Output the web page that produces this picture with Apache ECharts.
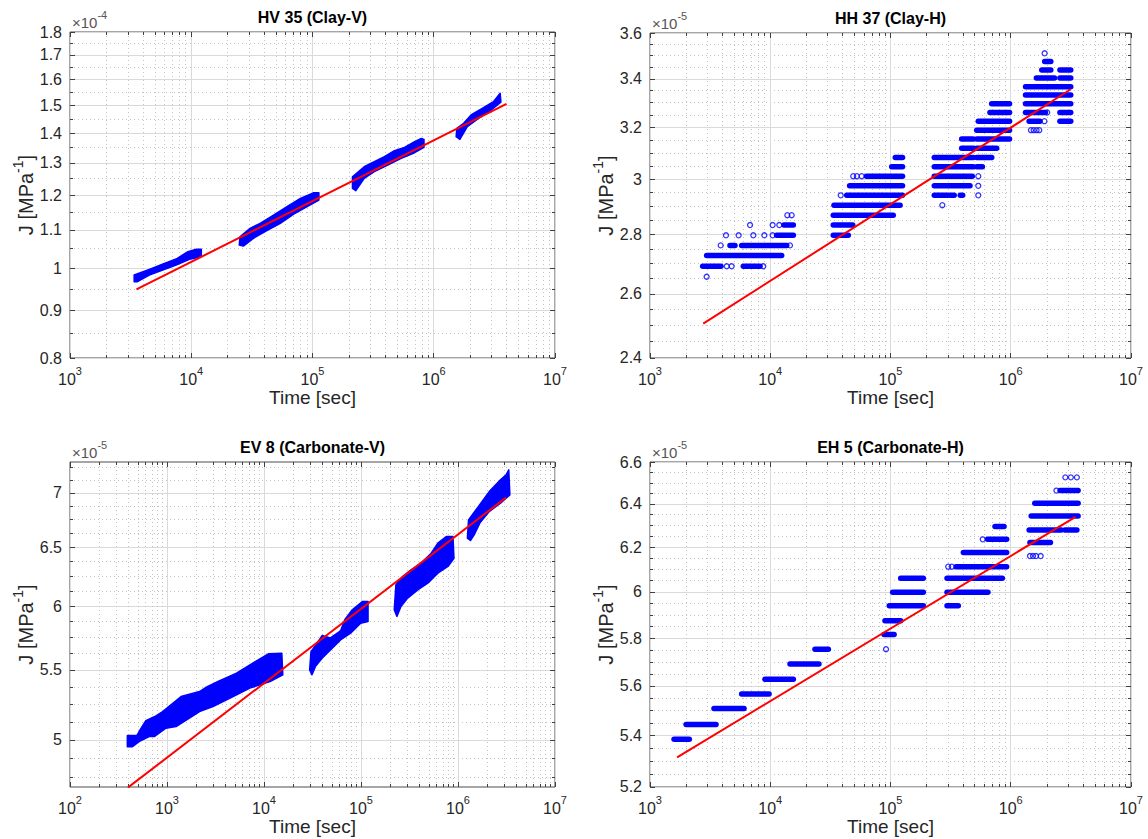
<!DOCTYPE html>
<html>
<head>
<meta charset="utf-8">
<script src="https://cdn.jsdelivr.net/npm/echarts@6.0.0/dist/echarts.min.js"></script>
<style>
html,body{margin:0;padding:0;background:#ffffff;}
#chart{width:1148px;height:839px;}
</style>
</head>
<body>
<div id="chart"></div>
<script>
// ================= DATA (time in s, J in units of the axis multiplier) =================
const panelTitles = ['HV 35 (Clay-V)', 'HH 37 (Clay-H)', 'EV 8 (Carbonate-V)', 'EH 5 (Carbonate-H)'];
const yMultiplierExp = ['-4', '-5', '-5', '-5'];
const xAxisTitle = 'Time [sec]';

const xLimits = [[1e3, 1e7], [1e3, 1e7], [1e2, 1e7], [1e3, 1e7]];
const yLimits = [[0.8, 1.8], [2.4, 3.6], [4.69, 7.30], [5.2, 6.6]];

const xMajorTicks = [
  [1e3, 1e4, 1e5, 1e6, 1e7],
  [1e3, 1e4, 1e5, 1e6, 1e7],
  [1e2, 1e3, 1e4, 1e5, 1e6, 1e7],
  [1e3, 1e4, 1e5, 1e6, 1e7]
];
const yMajorTicks = [
  [0.8, 0.9, 1, 1.1, 1.2, 1.3, 1.4, 1.5, 1.6, 1.7, 1.8],
  [2.4, 2.6, 2.8, 3, 3.2, 3.4, 3.6],
  [5, 5.5, 6, 6.5, 7],
  [5.2, 5.4, 5.6, 5.8, 6, 6.2, 6.4, 6.6]
];
const yMinorTicks = [
  [0.85, 0.95, 1.05, 1.15, 1.25, 1.35, 1.45, 1.55, 1.65, 1.75],
  [2.45, 2.5, 2.55, 2.65, 2.7, 2.75, 2.85, 2.9, 2.95, 3.05, 3.1, 3.15, 3.25, 3.3, 3.35, 3.45, 3.5, 3.55],
  [4.75, 4.875, 5.125, 5.25, 5.375, 5.625, 5.75, 5.875, 6.125, 6.25, 6.375, 6.625, 6.75, 6.875, 7.125, 7.25],
  [5.25, 5.3, 5.35, 5.45, 5.5, 5.55, 5.65, 5.7, 5.75, 5.85, 5.9, 5.95, 6.05, 6.1, 6.15, 6.25, 6.3, 6.35, 6.45, 6.5, 6.55]
];

// HV 35: dense measurement clouds (outline of each loading stage, [t, J])
const hv35Clouds = [
  [[3382,0.9834],[4510,0.9974],[6005,1.0124],[7502,1.0233],[9382,1.0422],[11010,1.0483],[12110,1.0483],
   [12110,1.0293],[9686,1.0225],[7502,1.0082],[5818,0.9957],[4510,0.9834],[3604,0.9672],[3382,0.9672]],
  [[25220,1.0817],[30530,1.1044],[36980,1.1182],[47720,1.1416],[61600,1.1656],[79500,1.1901],[102600,1.2069],[112900,1.2069],
   [112900,1.1851],[90320,1.1656],[69980,1.1445],[54220,1.1182],[42010,1.0980],[32540,1.0773],[26880,1.0569],[24880,1.0596]],
  [[213600,1.2558],[267100,1.2875],[323300,1.3036],[391500,1.3199],[474200,1.3398],[574100,1.3510],[695300,1.3702],[789800,1.3815],[831000,1.3781],
   [831000,1.3510],[695300,1.3331],[538700,1.3144],[417300,1.2928],[323300,1.2716],[267100,1.2506],[227700,1.2129],[213600,1.2199]],
  [[1.551e6,1.4164],[1.763e6,1.4342],[2.031e6,1.4643],[2.512e6,1.4888],[3.107e6,1.5136],[3.53e6,1.5453],
   [3.58e6,1.512],[2.894e6,1.478],[2.34e6,1.4522],[1.892e6,1.4224],[1.642e6,1.3782],[1.53e6,1.3874]]
];
const hv35Fit = [[3530, 0.949], [3.98e6, 1.505]];

// HH 37: quantised readings, runs of points [tStart, J, tEnd] and isolated points [t, J]
const hh37Runs = [
  [2742,2.691,3890],[5970,2.691,8222],
  [2958,2.727,12450],
  [4624,2.762,5093],[5781,2.762,13710],
  [11300,2.797,15560],
  [13000,2.833,15560],
  [33420,2.797,44570],
  [33420,2.833,48530],
  [33420,2.868,105400],
  [33880,2.904,120200],
  [43250,2.940,125900],
  [45710,2.975,125900],
  [63100,3.011,125900],
  [102300,3.047,125900],
  [109600,3.082,125900],
  [231200,2.940,302700],[316200,2.940,338800],[380200,2.940,398100],
  [231200,2.975,458100],
  [231200,3.011,478600],
  [231200,3.047,487500],[521200,3.047,580700],
  [231200,3.082,487500],[521200,3.082,695000],
  [390800,3.118,487500],[521200,3.118,763800],
  [390800,3.154,487500],[521200,3.154,977200],
  [521200,3.189,977200],
  [537000,3.225,977200],
  [671400,3.260,977200],
  [693400,3.296,977200],
  [1.422e6,3.225,1.75e6],[2.564e6,3.225,3.155e6],
  [1.327e6,3.260,1.941e6],[2.564e6,3.260,3.155e6],
  [1.327e6,3.296,3.155e6],
  [1.327e6,3.332,3.155e6],
  [1.327e6,3.367,3.155e6],
  [1.633e6,3.403,2.312e6],[2.564e6,3.403,3.155e6],
  [1.811e6,3.438,2.153e6],[2.564e6,3.438,3.155e6],
  [1.914e6,3.474,2.153e6]
];
const hh37Points = [
  [2958,2.656],[4345,2.691],[4775,2.691],[8750,2.691],[3873,2.762],[14590,2.762],
  [4285,2.797],[5458,2.797],[7228,2.797],[8933,2.797],[10470,2.797],
  [6792,2.833],[10470,2.833],[11890,2.833],[13870,2.868],[15070,2.868],
  [38550,2.940],[48980,3.011],[52480,3.011],[57540,3.011],
  [269800,2.904],[537000,2.940],[537000,2.975],[537000,3.011],
  [1.472e6,3.189],[1.55e6,3.189],[1.64e6,3.189],[1.726e6,3.189],
  [1.905e6,3.225],[2.009e6,3.260],[1.914e6,3.510]
];
const hh37Fit = [[2770, 2.505], [3.16e6, 3.356]];

// EV 8: dense measurement clouds (outline of each loading stage, [t, J])
const ev8Clouds = [
  [[390,5.030],[488,5.030],[516,5.058],[605,5.134],[769,5.167],[902,5.197],[1397,5.305],[2166,5.341],[2541,5.373],[3357,5.414],[5204,5.476],[7447,5.546],[11090,5.622],[15260,5.627],
   [15630,5.464],[11540,5.414],[7155,5.366],[4806,5.305],[2979,5.233],[2166,5.197],[1240,5.092],[976,5.081],[739,5.023],[655,5.023],[516,4.989],[440,4.955],[390,4.955]],
  [[30510,5.639],[35000,5.70],[39690,5.764],[48430,5.745],[61510,5.80],[68000,5.89],[81280,5.970],[103200,6.037],[118200,6.037],
   [118200,5.875],[99200,5.862],[78120,5.782],[61510,5.730],[48430,5.652],[39690,5.588],[33830,5.525],[31250,5.464],[29550,5.500]],
  [[229000,6.176],[268600,6.246],[327800,6.304],[416400,6.361],[528800,6.448],[620000,6.536],[756800,6.596],[887600,6.596],
   [909100,6.404],[787600,6.332],[620000,6.275],[488200,6.190],[384500,6.134],[302700,6.065],[258100,5.996],[234600,5.916],[220100,5.970]],
  [[1.284e6,6.747],[1.605e6,6.865],[2.098e6,7.012],[2.742e6,7.125],[3.134e6,7.174],[3.337e6,7.223],
   [3.427e6,6.981],[2.742e6,6.902],[2.098e6,6.824],[1.678e6,6.717],[1.468e6,6.611],[1.343e6,6.560],[1.25e6,6.581]]
];
const ev8Fit = [[395, 4.686], [3.13e6, 6.955]];

// EH 5: quantised readings, runs [tStart, J, tEnd] and isolated points [t, J]
const eh5Runs = [
  [1585,5.385,2123],
  [1995,5.444,3540],
  [3404,5.508,6053],
  [5781,5.567,9772],
  [9036,5.628,15560],
  [14590,5.691,25410],
  [23550,5.753,30410],
  [88310,5.816,107200],
  [89950,5.875,121600],
  [97720,5.939,187500],[295100,5.939,366400],
  [104200,5.999,187500],[295100,5.999,645700],
  [121600,6.061,187500],[295100,6.061,851100],
  [350800,6.112,924700],
  [403600,6.176,924700],
  [641200,6.236,924700],
  [739600,6.295,879000],
  [1.445e6,6.221,2.138e6],
  [1.422e6,6.279,2.63e6],[2.818e6,6.279,3.548e6],
  [1.479e6,6.344,3.631e6],
  [1.585e6,6.403,3.631e6],
  [2.57e6,6.463,3.631e6]
];
const eh5Points = [
  [91830,5.753],[302000,6.112],[323600,6.112],[584800,6.236],
  [1.445e6,6.160],[1.531e6,6.160],[1.622e6,6.160],[1.774e6,6.160],
  [2.399e6,6.463],[2.844e6,6.526],[3.162e6,6.526],[3.548e6,6.526]
];
const eh5Fit = [[1680, 5.314], [3.46e6, 6.340]];

// ================= STYLE / LAYOUT =================
const FONT = '"Liberation Sans", Arial, Helvetica, sans-serif';
const TXT = '#262626';
const BLUE = '#0000ff';
const grids = [
  {left: 70, top: 32, width: 485, height: 326},
  {left: 650, top: 33, width: 481, height: 325},
  {left: 70, top: 462, width: 485, height: 325},
  {left: 650, top: 462, width: 481, height: 325}
];

function decadeMinorTicks(lo, hi) {
  const out = [];
  for (let d = lo; d < hi; d *= 10) for (let k = 2; k <= 9; k++) out.push(k * d);
  return out;
}
const EPS = 1e-7;
const TICKCOL = '#404040';

const xAxes = [], yAxes = [];
// axis index layout per panel: x: 4*i major-bottom, +1 minor-bottom, +2 major-top, +3 minor-top
//                              y: 4*i major-left,  +1 minor-left,  +2 major-right, +3 minor-right
function bareAxis(type, i, pos, lim, ticks, len) {
  return {
    type: 'log', logBase: 10, gridIndex: i, position: pos,
    min: lim[0] * (1 - EPS), max: lim[1] * (1 + EPS),
    axisLine: {show: false, onZero: false},
    axisTick: {show: true, inside: true, length: len, customValues: ticks, lineStyle: {color: TICKCOL}},
    axisLabel: {show: false},
    splitLine: {show: false}
  };
}
grids.forEach((g, i) => {
  const xl = xLimits[i], yl = yLimits[i];
  const xMinor = decadeMinorTicks(xl[0], xl[1]);
  const xMaj = bareAxis('x', i, 'bottom', xl, xMajorTicks[i], 5);
  xMaj.axisLabel = {
    show: true, customValues: xMajorTicks[i], margin: 7,
    formatter: v => '{b|10}{e|' + Math.round(Math.log10(v)) + '}',
    rich: {
      b: {fontSize: 16, fontFamily: FONT, color: TXT, verticalAlign: 'bottom', lineHeight: 22},
      e: {fontSize: 11, fontFamily: FONT, color: TXT, verticalAlign: 'top'}
    }
  };
  xMaj.splitLine = {show: true, lineStyle: {color: '#dadada', width: 1}};
  xMaj.name = xAxisTitle; xMaj.nameLocation = 'middle'; xMaj.nameGap = 30;
  xMaj.nameTextStyle = {fontSize: 19, fontFamily: FONT, color: TXT};
  const xMin = bareAxis('x', i, 'bottom', xl, xMinor, 3);
  xMin.splitLine = {show: true, lineStyle: {color: '#c2c2c2', width: 1, type: [1, 3]}};
  xAxes.push(xMaj, xMin, bareAxis('x', i, 'top', xl, xMajorTicks[i], 5), bareAxis('x', i, 'top', xl, xMinor, 3));

  const yMaj = bareAxis('y', i, 'left', yl, yMajorTicks[i], 5);
  yMaj.axisLabel = {
    show: true, customValues: yMajorTicks[i], margin: 8,
    formatter: v => String(+(+v).toFixed(3)),
    fontSize: 16, fontFamily: FONT, color: TXT
  };
  yMaj.splitLine = {show: true, lineStyle: {color: '#dadada', width: 1}};
  yMaj.name = '{a|J [MPa}{s|-1}{a|]}'; yMaj.nameLocation = 'middle'; yMaj.nameRotate = 90; yMaj.nameGap = 33;
  yMaj.nameTextStyle = {
    rich: {
      a: {fontSize: 20, fontFamily: FONT, color: TXT, verticalAlign: 'bottom', lineHeight: 25},
      s: {fontSize: 14, fontFamily: FONT, color: TXT, verticalAlign: 'top'}
    }
  };
  const yMin = bareAxis('y', i, 'left', yl, yMinorTicks[i], 3);
  yMin.splitLine = {show: true, lineStyle: {color: '#c2c2c2', width: 1, type: [1, 3]}};
  yAxes.push(yMaj, yMin, bareAxis('y', i, 'right', yl, yMajorTicks[i], 5), bareAxis('y', i, 'right', yl, yMinorTicks[i], 3));
});

function cloudSeries(i, clouds) {
  return {
    type: 'custom', coordinateSystem: 'cartesian2d', xAxisIndex: 4 * i, yAxisIndex: 4 * i,
    data: clouds.map(c => c[0]), encode: {x: 0, y: 1}, silent: true, z: 3,
    renderItem: (params, api) => ({
      type: 'polygon',
      shape: {points: clouds[params.dataIndex].map(p => api.coord(p))},
      style: {fill: BLUE, stroke: BLUE, lineWidth: 1.5, lineJoin: 'round'}
    })
  };
}
function runSeries(i, runs) {
  return {
    type: 'custom', coordinateSystem: 'cartesian2d', xAxisIndex: 4 * i, yAxisIndex: 4 * i,
    data: runs, encode: {x: [0, 2], y: 1}, silent: true, z: 3,
    renderItem: (params, api) => {
      const a = api.coord([api.value(0), api.value(1)]);
      const b = api.coord([api.value(2), api.value(1)]);
      return {type: 'line', shape: {x1: a[0], y1: a[1], x2: b[0], y2: b[1]},
              style: {stroke: BLUE, lineWidth: 5.5, lineCap: 'round'}};
    }
  };
}
function pointSeries(i, pts) {
  return {
    type: 'scatter', xAxisIndex: 4 * i, yAxisIndex: 4 * i, data: pts, symbol: 'circle', symbolSize: 5,
    itemStyle: {color: 'rgba(0,0,0,0)', borderColor: BLUE, borderWidth: 1.3}, silent: true, z: 3
  };
}
function fitSeries(i, fit) {
  return {
    type: 'line', xAxisIndex: 4 * i, yAxisIndex: 4 * i, data: fit, showSymbol: false, symbol: 'none',
    lineStyle: {color: '#ff0000', width: 2}, silent: true, z: 5
  };
}

const graphics = [];
grids.forEach((g, i) => {
  graphics.push({
    type: 'text', x: g.left + g.width / 2, y: g.top - 15,
    style: {text: panelTitles[i], fontSize: 16, fontWeight: 'bold', fontFamily: FONT, fill: '#000',
            align: 'center', verticalAlign: 'middle'}
  });
  graphics.push({
    type: 'text', x: g.left + 2, y: g.top - 2,
    style: {text: '{a|\u00d710}{s|' + yMultiplierExp[i] + '}', align: 'left', verticalAlign: 'bottom',
            rich: {a: {fontSize: 15, fontFamily: FONT, fill: '#555', color: '#555', verticalAlign: 'bottom', lineHeight: 21},
                   s: {fontSize: 11, fontFamily: FONT, fill: '#555', color: '#555', verticalAlign: 'top'}}}
  });
});

const option = {
  animation: false,
  backgroundColor: '#ffffff',
  grid: grids.map(g => Object.assign({show: true, borderColor: '#4d4d4d', borderWidth: 1, backgroundColor: '#fff', containLabel: false}, g)),
  xAxis: xAxes,
  yAxis: yAxes,
  graphic: graphics,
  series: [
    cloudSeries(0, hv35Clouds), fitSeries(0, hv35Fit),
    runSeries(1, hh37Runs), pointSeries(1, hh37Points), fitSeries(1, hh37Fit),
    cloudSeries(2, ev8Clouds), fitSeries(2, ev8Fit),
    runSeries(3, eh5Runs), pointSeries(3, eh5Points), fitSeries(3, eh5Fit)
  ]
};

const chart = echarts.init(document.getElementById('chart'), null, {renderer: 'svg'});
chart.setOption(option);
</script>
</body>
</html>
